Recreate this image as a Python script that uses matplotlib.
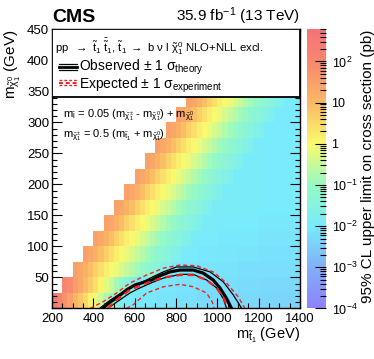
import numpy as np
import matplotlib
matplotlib.use("Agg")
import matplotlib.pyplot as plt
from matplotlib.colors import LinearSegmentedColormap, LogNorm
from matplotlib.patches import Rectangle
from matplotlib.lines import Line2D
from matplotlib.ticker import (MultipleLocator, LogLocator, FixedLocator, FixedFormatter,
                               NullFormatter, FuncFormatter)

plt.rcParams['font.family'] = ['Liberation Sans', 'DejaVu Sans']
plt.rcParams['mathtext.fontset'] = 'custom'
plt.rcParams['mathtext.rm'] = 'Liberation Sans'
plt.rcParams['mathtext.it'] = 'Liberation Sans'
plt.rcParams['mathtext.bf'] = 'Liberation Sans:bold'
plt.rcParams['mathtext.sf'] = 'Liberation Sans'

# ---- data ----
mstop_edges = np.arange(200, 1425, 25)
mlsp_edges = np.arange(0, 375, 25)
# first filled m_stop bin in each m_lsp row (kinematic edge)
row_start = [200, 250, 300, 350, 400, 450, 500, 550, 600, 650, 700, 750, 800, 850]

# limit (pb) vs distance from the edge, 25 GeV steps
limit_row0 = [300, 150, 60, 30, 12, 6, 3, 1.2, 0.7, 0.35, 0.15, 0.08, 0.04]
limit_row1 = [120, 80, 40, 20, 10, 5, 2.5, 1.2, 0.6, 0.3, 0.15, 0.08, 0.04, 0.025]
limit_upper = [30, 22, 14, 8, 4.5, 2.5, 1.5, 1.0, 0.7, 0.45, 0.3, 0.2, 0.13,
               0.09, 0.06, 0.045, 0.035, 0.025, 0.02]
# limit far from the edge, per 100 GeV block of m_stop (200-300, ..., 1300-1400)
far_limit = [0.05, 0.04, 0.03, 0.025, 0.02, 0.017, 0.015, 0.013, 0.012, 0.011, 0.01, 0.01]
# how much lower the far-field limit is in each m_lsp row
row_far_scale = [0.45, 0.5, 0.6, 0.7, 0.8, 0.9, 1, 1, 1, 1, 1, 1, 1, 1]

# exclusion contours
obs_x = [445, 480, 513, 561, 602, 642, 682, 723, 771, 819, 884, 932, 980, 1013, 1045, 1069]
obs_y = [0, 10, 17, 30, 38, 42, 46, 53, 59, 62, 62, 57, 46, 33, 16, 0]
obs_up_x = [430, 480, 530, 577, 618, 658, 700, 739, 803, 884, 965, 1029, 1077, 1100, 1118]
obs_up_y = [0, 13, 24, 33, 40, 46, 53, 59, 67, 67, 59, 43, 22, 10, 0]
obs_dn_x = [470, 520, 577, 618, 658, 700, 739, 819, 884, 948, 997, 1029, 1045]
obs_dn_y = [0, 12, 25, 32, 38, 44, 49, 55, 55, 46, 33, 16, 0]
exp_x = [470, 513, 577, 658, 739, 819, 884, 948, 997, 1029, 1052]
exp_y = [0, 14, 30, 41, 50, 54, 54, 46, 33, 18, 0]
exp_up_x = [384, 448, 513, 577, 658, 739, 819, 900, 980, 1045, 1101, 1134]
exp_up_y = [0, 11, 25, 41, 54, 65, 70, 69, 59, 41, 19, 0]
exp_dn_x = [560, 593, 658, 739, 819, 884, 948, 975, 985]
exp_dn_y = [0, 6, 25, 35, 39, 35, 25, 11, 0]

cb_ticks = [1e-4, 1e-3, 1e-2, 1e-1, 1, 10, 100]
cb_labels = ['$10^{-4}$', '$10^{-3}$', '$10^{-2}$', '$10^{-1}$', '1', '10', '$10^{2}$']

# ---- build cell values ----
z = np.full((len(mlsp_edges) - 1, len(mstop_edges) - 1), np.nan)
for j in range(len(mlsp_edges) - 1):
    if j == 0:
        prof = limit_row0
    elif j == 1:
        prof = limit_row1
    else:
        prof = limit_upper
    for i in range(len(mstop_edges) - 1):
        x = mstop_edges[i]
        if x < row_start[j]:
            continue
        k = int((x - row_start[j]) // 25)
        v = far_limit[int((x - 200) // 100)] * row_far_scale[j]
        if k < len(prof):
            v = max(v, prof[k])
        z[j, i] = v
z = np.ma.masked_invalid(z)

vmin, vmax = 1e-4, 600
lv = lambda v: (np.log10(v) - np.log10(vmin)) / (np.log10(vmax) - np.log10(vmin))
cols = [(lv(1e-4), (140, 130, 250)), (lv(1e-3), (130, 175, 250)),
        (lv(1e-2), (120, 235, 252)), (lv(1e-1), (150, 250, 195)),
        (lv(1), (250, 250, 110)), (lv(10), (250, 185, 100)),
        (lv(100), (248, 135, 110)), (1.0, (245, 115, 120))]
cmap = LinearSegmentedColormap.from_list(
    'pastel', [(p, tuple(c / 255 for c in rgb)) for p, rgb in cols])

fig = plt.figure(figsize=(3.74, 3.59), dpi=100)
ax = fig.add_axes([0.139, 0.1407, 0.663, 0.7775])
cax = fig.add_axes([0.820, 0.1407, 0.0516, 0.7775])

mesh = ax.pcolormesh(mstop_edges, mlsp_edges, z, cmap=cmap,
                     norm=LogNorm(vmin=vmin, vmax=vmax), shading='flat')

ax.plot(obs_up_x, obs_up_y, color='black', lw=0.9, zorder=3)
ax.plot(obs_dn_x, obs_dn_y, color='black', lw=0.9, zorder=3)
ax.plot(obs_x, obs_y, color='black', lw=2.3, zorder=3)
ax.plot(exp_up_x, exp_up_y, color='#ee2222', lw=1.0, ls=(0, (3, 2)), zorder=4)
ax.plot(exp_dn_x, exp_dn_y, color='#ee2222', lw=1.0, ls=(0, (3, 2)), zorder=4)
ax.plot(exp_x, exp_y, color='#ee2222', lw=1.6, ls=(0, (3, 2)), zorder=4)

ax.set_xlim(200, 1400)
ax.set_ylim(0, 450)
ax.xaxis.set_major_locator(MultipleLocator(200))
ax.xaxis.set_minor_locator(MultipleLocator(50))
ax.yaxis.set_major_locator(MultipleLocator(50))
ax.yaxis.set_minor_locator(MultipleLocator(10))
ax.yaxis.set_major_formatter(FuncFormatter(lambda v, p: '' if v == 0 else '%d' % v))
ax.tick_params(which='both', direction='in', top=True, right=True, labelsize=9.5, width=0.8)
ax.tick_params(which='major', length=7)
ax.tick_params(which='minor', length=3.5)
ax.tick_params(axis='x', pad=3)
ax.tick_params(axis='y', pad=2)
for s in ax.spines.values():
    s.set_linewidth(1.0)

ax.set_xlabel(r'm$_{\tilde{t}_{1}}$ (GeV)', fontsize=10.5, loc='right', labelpad=1)
ax.set_ylabel(r'm$_{\tilde{\chi}^{0}_{1}}$ (GeV)', fontsize=11, loc='top', labelpad=3)

# legend box
ax.add_patch(Rectangle((0, 0.758), 1, 0.242, transform=ax.transAxes,
                       facecolor='white', edgecolor='black', lw=1.3, zorder=5))
ax.text(0.012, 0.918,
        r'pp  $\rightarrow\ \tilde{t}_{1}\ \bar{\tilde{t}}_{1}$, $\tilde{t}_{1}\ \rightarrow$ b $\nu$ l $\tilde{\chi}^{0}_{1}$ NLO+NLL excl.',
        transform=ax.transAxes, fontsize=8.2, zorder=6)
for yy, lw in [(0.876, 0.9), (0.866, 2.0), (0.856, 0.9)]:
    ax.add_line(Line2D([0.029, 0.102], [yy, yy], transform=ax.transAxes,
                       color='black', lw=lw, zorder=6))
for yy, lw in [(0.819, 1.0), (0.809, 1.4), (0.799, 1.0)]:
    ax.add_line(Line2D([0.029, 0.102], [yy, yy], transform=ax.transAxes,
                       color='#ee2222', lw=lw, ls=(0, (2, 1.5)), zorder=6))
ax.text(0.109, 0.853, r'Observed $\pm$ 1 $\sigma_{\mathrm{theory}}$',
        transform=ax.transAxes, fontsize=10, zorder=6)
ax.text(0.109, 0.789, r'Expected $\pm$ 1 $\sigma_{\mathrm{experiment}}$',
        transform=ax.transAxes, fontsize=10, zorder=6)

ax.text(0.044, 0.686,
        r'm$_{\tilde{l}}$ = 0.05 (m$_{\tilde{\chi}^{\pm}_{1}}$ - m$_{\tilde{\chi}^{0}_{1}}$) + m$_{\tilde{\chi}^{0}_{1}}$',
        transform=ax.transAxes, fontsize=8, zorder=6)
ax.text(0.044, 0.615,
        r'm$_{\tilde{\chi}^{\pm}_{1}}$ = 0.5 (m$_{\tilde{t}_{1}}$ + m$_{\tilde{\chi}^{0}_{1}}$)',
        transform=ax.transAxes, fontsize=8, zorder=6)

# colour bar
cb = fig.colorbar(mesh, cax=cax)
cb.outline.set_visible(False)
cax.yaxis.set_major_locator(FixedLocator(cb_ticks))
cax.yaxis.set_major_formatter(FixedFormatter(cb_labels))
cax.yaxis.set_minor_locator(LogLocator(base=10, subs=np.arange(2, 10)))
cax.yaxis.set_minor_formatter(NullFormatter())
cax.tick_params(which='both', direction='in', right=True, left=False, labelsize=9, width=0.8, pad=4)
cax.tick_params(which='major', length=8)
cax.tick_params(which='minor', length=4)
cax.set_ylabel('95% CL upper limit on cross section (pb)', fontsize=11, loc='top', labelpad=3)

fig.text(0.139, 0.940, 'CMS', fontsize=14, fontweight='bold')
fig.text(0.802, 0.942, r'35.9 fb$^{-1}$ (13 TeV)', fontsize=11, ha='right')

fig.savefig('out.png', dpi=100)
